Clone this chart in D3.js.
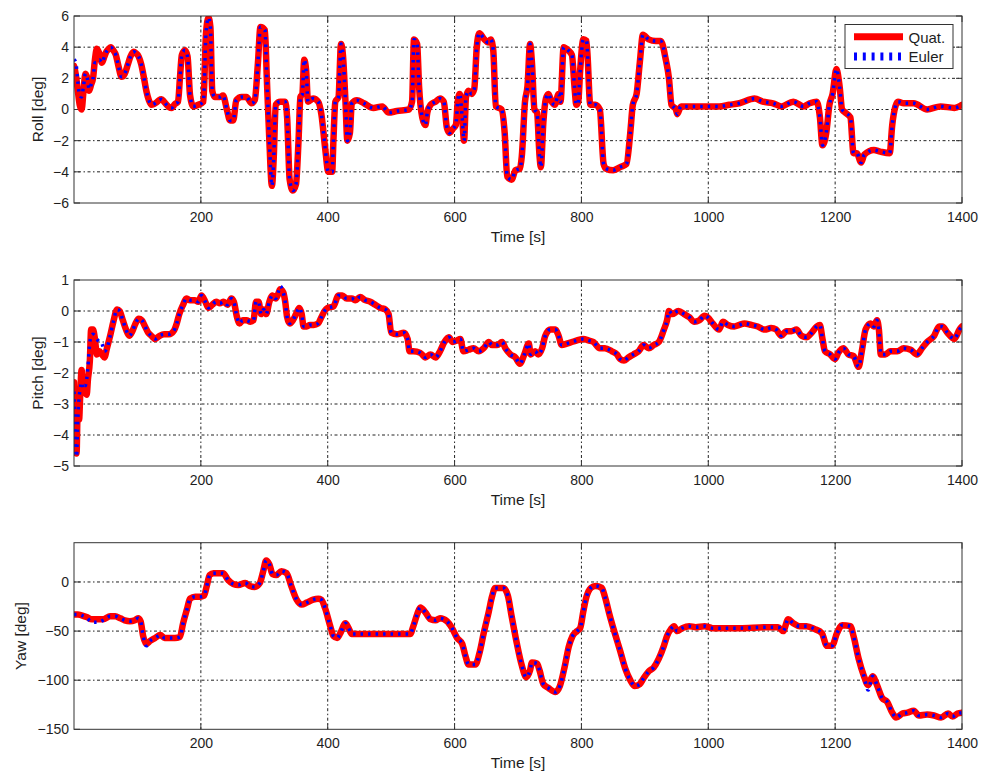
<!DOCTYPE html>
<html>
<head>
<meta charset="utf-8">
<script src="https://cdn.jsdelivr.net/npm/d3@7"></script>
<style>
  body { margin: 0; background: #fff; }
  svg { display: block; }
  text { font-family: "Liberation Sans", Arial, Helvetica, sans-serif; fill: #1e1e1e; }
</style>
</head>
<body>
<svg id="chart" width="982" height="773"></svg>
<script>
// ---- data -------------------------------------------------------------
const timeLabel = "Time [s]";
const seriesNames = ["Quat.", "Euler"];
const xTicks = [200, 400, 600, 800, 1000, 1200, 1400];

const rollTicks = [-6, -4, -2, 0, 2, 4, 6];
const rollT = [0,3,6,9,12,15,18,21,24,27,30,33,36,40,44,48,51,55,58,62,66,70,75,80,85,89,94,98,102,106,110,114,118,122,126,130,134,138,142,146,150,154,159,164,167,170,175,179,183,188,196,204,208,212,215,218,222,230,235,241,246,251,256,264,272,280,285,290,294,301,304,308,312,315,318,325,333,336,340,345,350,354,357,360,363,366,369,377,385,390,396,401,407,409,412,417,421,424,428,431,435,438,446,457,472,486,496,509,528,533,536,541,544,549,554,557,562,570,577,583,588,592,598,602,605,608,612,615,618,622,627,631,635,639,647,653,657,661,665,674,679,683,690,696,703,706,711,715,719,722,726,730,734,736,740,744,748,753,758,764,767,772,779,785,789,792,795,798,803,808,814,822,829,835,839,850,861,871,877,881,887,892,897,906,917,925,933,938,942,949,951,957,970,986,1002,1017,1033,1049,1073,1086,1102,1115,1134,1150,1160,1171,1176,1180,1186,1191,1196,1202,1207,1211,1216,1224,1229,1234,1241,1246,1261,1271,1286,1290,1295,1299,1308,1324,1345,1366,1388,1400];
const rollQuat = [2.8,2.2,1.2,0.3,0.0,1.2,2.3,2.0,1.2,1.6,2.0,3.2,3.9,3.6,3.0,3.4,3.7,3.9,4.0,3.8,3.5,2.8,2.1,2.3,2.9,3.4,3.7,3.6,3.4,2.9,2.1,1.2,0.6,0.3,0.35,0.45,0.6,0.65,0.5,0.3,0.15,0.1,0.35,0.5,2.0,3.5,3.8,3.4,0.9,0.2,0.3,0.5,4.8,5.9,5.3,1.2,0.8,0.8,0.9,0.0,-0.7,-0.7,0.6,0.8,0.8,0.4,0.6,3.0,5.3,5.1,2.0,-2.0,-4.9,-3.0,0.3,0.5,0.5,-0.5,-4.5,-5.2,-4.8,-2.0,0.8,1.0,3.2,2.5,0.5,0.7,0.5,-0.3,-2.5,-4.0,-4.0,-2.0,0.5,0.8,4.2,3.5,0.5,-2.0,-1.5,0.4,0.6,0.4,0.1,0.2,-0.2,-0.1,0.0,0.5,4.5,4.2,1.5,-0.5,-1.0,-0.2,0.3,0.5,0.7,0.5,-1.2,-1.5,-1.2,-1.0,0.5,1.0,-0.5,-2.0,0.8,1.2,1.0,1.3,4.0,4.9,4.5,4.3,4.5,3.8,0.2,0.0,-1.5,-4.3,-4.5,-3.9,-3.8,-3.0,0.5,1.5,4.2,3.0,0.0,-0.2,-3.0,-3.7,-0.8,0.7,1.0,0.5,0.3,1.0,0.5,4.0,3.8,3.5,1.5,0.3,0.5,2.5,4.5,4.4,0.3,0.3,0.0,-3.5,-3.8,-3.9,-3.7,-3.5,-1.5,0.3,1.0,3.0,4.8,4.5,4.4,4.4,3.2,2.0,0.3,0.0,-0.3,0.2,0.2,0.2,0.2,0.2,0.3,0.4,0.7,0.5,0.4,0.2,0.5,0.2,0.4,0.5,-0.5,-2.3,-1.5,0.3,1.0,2.6,1.5,0.0,-0.2,-0.5,-2.8,-2.8,-3.4,-2.9,-2.6,-2.7,-2.8,-1.0,0.2,0.5,0.4,0.4,0.0,0.2,0.1,0.3];
const rollEuler = [3.2,3.0,1.8,0.9,0.8,1.5,2.3,2.0,1.3,1.6,2.0,3.0,3.0,3.2,3.0,3.4,3.7,3.9,4.0,3.8,3.5,2.8,2.1,2.3,2.9,3.4,3.7,3.6,3.4,2.9,2.1,1.2,0.6,0.3,0.35,0.45,0.6,0.65,0.5,0.3,0.15,0.1,0.35,0.5,2.0,3.5,3.8,3.4,0.9,0.2,0.3,0.5,4.8,5.9,5.3,1.2,0.8,0.8,0.9,0.0,-0.7,-0.7,0.6,0.8,0.8,0.4,0.6,3.0,5.3,5.1,2.0,-2.0,-4.9,-3.0,0.3,0.5,0.5,-0.5,-4.5,-5.2,-4.8,-2.0,0.8,1.0,3.2,2.5,0.5,0.7,0.5,-0.3,-2.5,-4.0,-4.0,-2.0,0.5,0.8,4.2,3.5,0.5,-2.0,-1.5,0.4,0.6,0.4,0.1,0.2,-0.2,-0.1,0.0,0.5,4.5,4.2,1.5,-0.5,-1.0,-0.2,0.3,0.5,0.7,0.5,-1.2,-1.5,-1.2,-1.0,0.5,1.0,-0.5,-2.0,0.8,1.2,1.0,1.3,4.0,4.9,4.5,4.3,4.5,3.8,0.2,0.0,-1.5,-4.3,-4.5,-3.9,-3.8,-3.0,0.5,1.5,4.2,3.0,0.0,-0.2,-3.0,-3.7,-0.8,0.7,1.0,0.5,0.3,1.0,0.5,4.0,3.8,3.5,1.5,0.3,0.5,2.5,4.5,4.4,0.3,0.3,0.0,-3.5,-3.8,-3.9,-3.7,-3.5,-1.5,0.3,1.0,3.0,4.8,4.5,4.4,4.4,3.2,2.0,0.3,0.0,-0.3,0.2,0.2,0.2,0.2,0.2,0.3,0.4,0.7,0.5,0.4,0.2,0.5,0.2,0.4,0.5,-0.5,-2.3,-1.5,0.3,1.0,2.6,1.5,0.0,-0.2,-0.5,-2.8,-2.8,-3.4,-2.9,-2.6,-2.7,-2.8,-1.0,0.2,0.5,0.4,0.4,0.0,0.2,0.1,0.3];

const pitchTicks = [-5, -4, -3, -2, -1, 0, 1];
const pitchT = [0,2,4,6,8,10,12,14,16,18,20,22,25,27,30,33,36,40,44,48,52,57,62,68,72,77,82,87,92,97,102,107,112,117,122,128,135,142,150,157,162,166,172,177,183,190,196,201,207,212,218,224,230,236,242,248,252,257,261,266,272,278,283,287,291,295,299,303,308,313,318,322,325,330,333,336,340,345,350,355,359,362,367,372,378,385,390,395,400,409,417,423,430,438,444,451,459,467,475,483,491,496,500,509,520,526,529,535,546,554,562,570,577,584,591,597,604,609,614,622,630,638,646,654,659,667,675,680,688,696,703,710,717,720,727,732,738,743,751,759,764,769,777,785,793,803,811,819,829,837,848,856,861,867,874,882,890,898,906,914,922,930,935,938,943,953,962,970,978,986,994,999,1007,1017,1023,1031,1041,1049,1057,1068,1078,1089,1099,1107,1115,1123,1131,1139,1147,1155,1163,1171,1176,1180,1184,1192,1200,1205,1213,1221,1229,1237,1242,1248,1256,1261,1266,1269,1272,1279,1287,1298,1308,1319,1329,1337,1345,1356,1364,1369,1377,1388,1396,1400];
const pitchQuat = [-2.3,-4.4,-4.6,-3.0,-3.5,-2.6,-1.9,-2.6,-2.3,-2.6,-2.7,-2.2,-1.6,-0.6,-0.6,-0.9,-1.4,-1.3,-1.4,-1.5,-1.2,-0.8,-0.35,0.05,0.0,-0.3,-0.6,-0.8,-0.65,-0.4,-0.25,-0.3,-0.5,-0.7,-0.8,-0.9,-0.8,-0.75,-0.75,-0.65,-0.4,-0.1,0.2,0.4,0.35,0.35,0.3,0.5,0.3,0.1,0.2,0.3,0.25,0.3,0.2,0.4,0.3,-0.2,-0.4,-0.3,-0.3,-0.35,-0.3,0.3,0.3,-0.1,0.05,-0.1,0.3,0.5,0.4,0.55,0.7,0.6,0.3,-0.2,-0.4,-0.3,-0.1,0.1,-0.1,-0.5,-0.5,-0.45,-0.45,-0.4,-0.2,0.0,0.1,0.15,0.5,0.5,0.4,0.4,0.35,0.45,0.35,0.3,0.2,0.1,0.05,-0.1,-0.7,-0.75,-0.7,-0.9,-1.3,-1.3,-1.35,-1.5,-1.4,-1.5,-1.3,-1.0,-0.85,-1.0,-0.95,-0.9,-1.3,-1.25,-1.2,-1.3,-1.2,-1.0,-1.1,-1.1,-1.0,-1.2,-1.4,-1.5,-1.7,-1.4,-1.05,-1.4,-1.3,-1.4,-1.2,-0.8,-0.6,-0.6,-0.8,-1.1,-1.05,-1.0,-0.95,-0.9,-0.95,-1.0,-1.2,-1.2,-1.3,-1.4,-1.55,-1.6,-1.5,-1.4,-1.3,-1.1,-1.2,-1.1,-1.0,-0.6,-0.3,0.0,-0.1,0.0,-0.1,-0.2,-0.35,-0.3,-0.15,-0.2,-0.4,-0.6,-0.35,-0.45,-0.5,-0.45,-0.4,-0.45,-0.5,-0.6,-0.55,-0.6,-0.8,-0.65,-0.65,-0.6,-0.8,-0.85,-0.7,-0.5,-0.45,-0.9,-1.3,-1.4,-1.55,-1.35,-1.2,-1.4,-1.45,-1.8,-1.3,-0.6,-0.4,-0.5,-0.3,-0.6,-1.4,-1.4,-1.3,-1.3,-1.2,-1.25,-1.4,-1.2,-1.0,-0.8,-0.5,-0.5,-0.7,-0.9,-0.6,-0.5];
const pitchEuler = [-2.6,-4.3,-4.7,-3.5,-2.8,-2.5,-2.3,-2.5,-2.4,-2.4,-2.2,-1.8,-1.0,-0.8,-0.75,-0.8,-0.9,-1.0,-1.05,-1.3,-1.2,-0.8,-0.35,0.05,0.0,-0.3,-0.6,-0.8,-0.65,-0.4,-0.25,-0.3,-0.5,-0.7,-0.8,-0.9,-0.8,-0.75,-0.75,-0.65,-0.4,-0.1,0.2,0.4,0.35,0.35,0.3,0.5,0.3,0.1,0.2,0.3,0.25,0.3,0.2,0.4,0.3,-0.2,-0.4,-0.3,-0.3,-0.35,-0.3,0.3,0.3,-0.1,0.05,-0.1,0.3,0.5,0.4,0.6,0.8,0.6,0.3,-0.2,-0.4,-0.3,-0.1,0.1,-0.1,-0.5,-0.5,-0.45,-0.45,-0.4,-0.2,0.0,0.1,0.15,0.5,0.5,0.4,0.4,0.35,0.45,0.35,0.3,0.2,0.1,0.05,-0.1,-0.7,-0.75,-0.7,-0.9,-1.3,-1.3,-1.35,-1.5,-1.4,-1.5,-1.3,-1.0,-0.85,-1.0,-0.95,-0.9,-1.3,-1.25,-1.2,-1.3,-1.2,-1.0,-1.1,-1.1,-1.0,-1.2,-1.4,-1.5,-1.7,-1.4,-1.05,-1.4,-1.3,-1.4,-1.2,-0.8,-0.6,-0.6,-0.8,-1.1,-1.05,-1.0,-0.95,-0.9,-0.95,-1.0,-1.2,-1.2,-1.3,-1.4,-1.55,-1.6,-1.5,-1.4,-1.3,-1.1,-1.2,-1.1,-1.0,-0.6,-0.3,0.0,-0.1,0.0,-0.1,-0.2,-0.35,-0.3,-0.15,-0.2,-0.4,-0.6,-0.35,-0.45,-0.5,-0.45,-0.4,-0.45,-0.5,-0.6,-0.55,-0.6,-0.8,-0.65,-0.65,-0.6,-0.8,-0.85,-0.7,-0.5,-0.45,-0.9,-1.3,-1.4,-1.55,-1.35,-1.2,-1.4,-1.45,-1.8,-1.3,-0.6,-0.4,-0.5,-0.3,-0.6,-1.4,-1.4,-1.3,-1.3,-1.2,-1.25,-1.4,-1.2,-1.0,-0.8,-0.5,-0.5,-0.7,-0.9,-0.6,-0.5];

const yawTicks = [-150, -100, -50, 0];
const yawT = [0,6,12,21,28,36,46,57,65,73,80,88,96,101,105,109,114,120,128,136,143,151,159,167,172,178,183,191,199,205,209,214,220,235,243,251,259,270,277,285,293,298,303,308,313,319,327,335,343,351,359,367,377,385,390,396,404,409,415,420,428,433,438,451,483,514,530,535,541,546,554,562,570,577,588,596,604,612,617,622,633,639,646,654,659,664,677,684,690,698,706,713,719,722,730,734,740,748,759,766,774,780,786,793,798,803,808,815,822,832,837,845,853,861,869,877,884,892,898,906,914,922,930,935,941,946,951,959,970,980,994,1007,1049,1092,1110,1118,1126,1134,1144,1155,1168,1179,1187,1195,1203,1211,1224,1229,1237,1245,1252,1259,1266,1274,1282,1290,1296,1306,1314,1324,1332,1345,1356,1367,1378,1385,1393,1400];
const yawQuat = [-33,-33,-34,-36,-38,-38,-38,-35,-35,-37,-39,-40,-39,-37,-40,-55,-63,-60,-57,-54,-57,-57,-57,-56,-42,-28,-17,-15,-15,-14,-5,7,9,9,2,-2,-3,-1,-4,-5,-1,10,22,18,8,7,11,9,-5,-18,-23,-21,-18,-17,-18,-27,-45,-55,-57,-52,-42,-47,-53,-53,-53,-53,-53,-45,-33,-26,-31,-38,-39,-37,-40,-47,-57,-63,-75,-84,-84,-73,-52,-30,-15,-6,-6,-14,-35,-62,-85,-97,-90,-82,-83,-90,-104,-108,-112,-106,-85,-66,-55,-50,-47,-30,-15,-6,-4,-6,-15,-35,-53,-70,-88,-100,-106,-104,-98,-91,-87,-78,-65,-55,-48,-45,-50,-47,-45,-46,-45,-47,-47,-46,-46,-50,-38,-42,-45,-45,-48,-52,-65,-65,-52,-44,-45,-55,-78,-95,-105,-96,-105,-118,-122,-133,-138,-134,-133,-131,-136,-135,-136,-138,-134,-137,-134,-133];
const yawEuler = [-33,-33,-34,-37,-41,-41,-39,-35,-35,-37,-39,-40,-39,-37,-40,-55,-65,-60,-57,-54,-57,-57,-57,-56,-42,-28,-17,-15,-15,-14,-5,7,9,9,2,-2,-3,-1,-4,-5,-1,10,22,18,8,7,11,9,-5,-18,-23,-21,-18,-17,-18,-27,-45,-55,-57,-52,-42,-47,-53,-53,-53,-53,-53,-45,-33,-26,-31,-38,-39,-37,-40,-47,-57,-63,-75,-84,-84,-73,-52,-30,-15,-6,-6,-14,-35,-62,-85,-97,-90,-82,-83,-90,-104,-108,-112,-106,-85,-66,-55,-50,-47,-30,-15,-6,-4,-6,-15,-35,-53,-70,-88,-100,-106,-104,-98,-91,-87,-78,-65,-55,-48,-45,-50,-47,-45,-46,-45,-47,-47,-46,-46,-50,-38,-42,-45,-45,-48,-52,-65,-65,-52,-44,-45,-55,-78,-95,-110,-96,-105,-118,-122,-133,-138,-134,-133,-131,-136,-135,-136,-138,-134,-137,-134,-133];

// ---- layout -----------------------------------------------------------
const left = 74, right = 962;
const panels = [
  { label: "Roll [deg]",  t: rollT,  quat: rollQuat,  euler: rollEuler,  domain: [-6, 6],    ticks: rollTicks,  top: 16,    bottom: 203,   labelX: 43, legend: true },
  { label: "Pitch [deg]", t: pitchT, quat: pitchQuat, euler: pitchEuler, domain: [-5, 1],    ticks: pitchTicks, top: 280,   bottom: 466,   labelX: 43 },
  { label: "Yaw [deg]",   t: yawT,   quat: yawQuat,   euler: yawEuler,   domain: [-150, 40], ticks: yawTicks,   top: 542.7, bottom: 729.3, labelX: 26 }
];

const svg = d3.select("#chart");
const x = d3.scaleLinear().domain([0, 1400]).range([left, right]);
const fmt = v => d3.format("d")(v).replace("-", "\u2212");
const gridDash = "1.5,2.5,3,2.5";
const tickLen = 6;

panels.forEach((p, i) => {
  const y = d3.scaleLinear().domain(p.domain).range([p.bottom, p.top]);
  const g = svg.append("g");
  const clipId = "clip" + i;
  svg.append("clipPath").attr("id", clipId)
    .append("rect").attr("x", left).attr("y", p.top)
    .attr("width", right - left).attr("height", p.bottom - p.top);

  // grid
  g.selectAll(".vg").data(xTicks.filter(v => v < 1400)).join("line")
    .attr("x1", d => x(d)).attr("x2", d => x(d))
    .attr("y1", p.top).attr("y2", p.bottom)
    .attr("stroke", "#222").attr("stroke-width", 1).attr("stroke-dasharray", gridDash);
  g.selectAll(".hg").data(p.ticks.filter(v => y(v) > p.top + 1 && y(v) < p.bottom - 1)).join("line")
    .attr("x1", left).attr("x2", right)
    .attr("y1", d => y(d)).attr("y2", d => y(d))
    .attr("stroke", "#222").attr("stroke-width", 1).attr("stroke-dasharray", gridDash);

  // inward tick marks on all four sides
  const tk = g.append("g").attr("stroke", "#333").attr("stroke-width", 1);
  xTicks.forEach(v => {
    tk.append("line").attr("x1", x(v)).attr("x2", x(v)).attr("y1", p.bottom).attr("y2", p.bottom - tickLen);
    tk.append("line").attr("x1", x(v)).attr("x2", x(v)).attr("y1", p.top).attr("y2", p.top + tickLen);
  });
  p.ticks.forEach(v => {
    tk.append("line").attr("x1", left).attr("x2", left + tickLen).attr("y1", y(v)).attr("y2", y(v));
    tk.append("line").attr("x1", right).attr("x2", right - tickLen).attr("y1", y(v)).attr("y2", y(v));
  });

  // series
  const rows = p.t.map((t, k) => ({ t, q: p.quat[k], e: p.euler[k] }));
  const lineQ = d3.line().x(d => x(d.t)).y(d => y(d.q)).curve(d3.curveMonotoneX);
  const lineE = d3.line().x(d => x(d.t)).y(d => y(d.e)).curve(d3.curveMonotoneX);
  const series = g.append("g").attr("clip-path", `url(#${clipId})`);
  series.append("path").datum(rows).attr("d", lineQ)
    .attr("fill", "none").attr("stroke", "#ff0000").attr("stroke-width", 6.5)
    .attr("stroke-linejoin", "round").attr("stroke-linecap", "round");
  series.append("path").datum(rows).attr("d", lineE)
    .attr("fill", "none").attr("stroke", "#0000ff").attr("stroke-width", 3.5)
    .attr("stroke-dasharray", "2.5,5");

  // frame
  g.append("rect").attr("x", left).attr("y", p.top)
    .attr("width", right - left).attr("height", p.bottom - p.top)
    .attr("fill", "none").attr("stroke", "#333").attr("stroke-width", 1);

  // tick labels
  const xa = g.append("g").attr("transform", `translate(0,${p.bottom})`)
    .call(d3.axisBottom(x).tickValues(xTicks).tickSize(0).tickPadding(9).tickFormat(fmt));
  xa.select(".domain").remove();
  xa.selectAll("text").attr("font-size", 14).attr("fill", "#1e1e1e")
    .style("font-family", '"Liberation Sans", Arial, sans-serif');
  const ya = g.append("g").attr("transform", `translate(${left},0)`)
    .call(d3.axisLeft(y).tickValues(p.ticks).tickSize(0).tickPadding(5).tickFormat(fmt));
  ya.select(".domain").remove();
  ya.selectAll("text").attr("font-size", 14).attr("fill", "#1e1e1e")
    .style("font-family", '"Liberation Sans", Arial, sans-serif');

  // axis titles
  g.append("text").attr("x", (left + right) / 2).attr("y", p.bottom + 38.5)
    .attr("text-anchor", "middle").attr("font-size", 15.5).text(timeLabel);
  g.append("text")
    .attr("transform", `translate(${p.labelX},${(p.top + p.bottom) / 2}) rotate(-90)`)
    .attr("text-anchor", "middle").attr("font-size", 15.5).text(p.label);

  // legend
  if (p.legend) {
    const lg = g.append("g");
    lg.append("rect").attr("x", 845).attr("y", 24.5).attr("width", 108).attr("height", 44)
      .attr("fill", "#fff").attr("stroke", "#333").attr("stroke-width", 1);
    lg.append("line").attr("x1", 854).attr("x2", 903).attr("y1", 36.7).attr("y2", 36.7)
      .attr("stroke", "#ff0000").attr("stroke-width", 7);
    lg.append("line").attr("x1", 854).attr("x2", 903).attr("y1", 56.5).attr("y2", 56.5)
      .attr("stroke", "#0000ff").attr("stroke-width", 8).attr("stroke-dasharray", "3,5.8");
    lg.append("text").attr("x", 908.5).attr("y", 42.5).attr("font-size", 15).text(seriesNames[0]);
    lg.append("text").attr("x", 908.5).attr("y", 62).attr("font-size", 15).text(seriesNames[1]);
  }
});
</script>
</body>
</html>
